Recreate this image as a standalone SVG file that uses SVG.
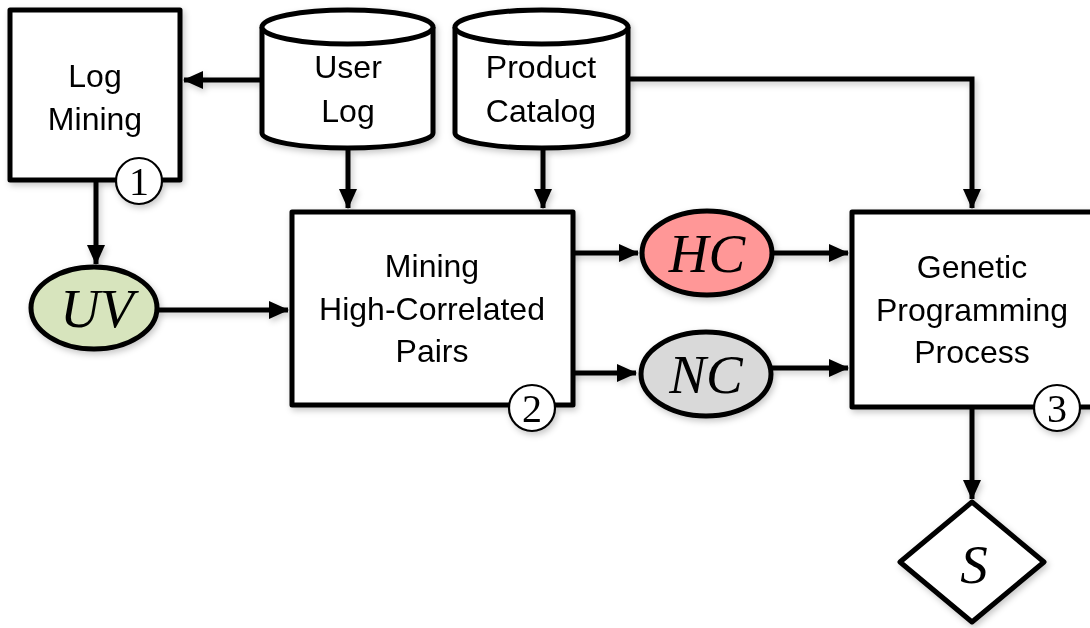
<svg xmlns="http://www.w3.org/2000/svg" width="1090" height="628" viewBox="0 0 1090 628">
<defs>
<marker id="ah" markerWidth="20" markerHeight="18" refX="19" refY="9" orient="auto" markerUnits="userSpaceOnUse">
<path d="M0,0 L20,9 L0,18 Z" fill="#000"/>
</marker>
<filter id="sh" x="-20%" y="-20%" width="140%" height="140%">
<feDropShadow dx="2" dy="3" stdDeviation="3" flood-color="#000" flood-opacity="0.22"/>
</filter>
</defs>
<style>
.box{fill:#fff;stroke:#000;stroke-width:5;stroke-linejoin:round}
.cyl{fill:#fff;stroke:#000;stroke-width:5;stroke-linejoin:round}
.ell{stroke:#000;stroke-width:5}
.num{fill:#fff;stroke:#000;stroke-width:2.2}
.lbl{font-family:"Liberation Sans",Arial,sans-serif;font-size:32px;text-anchor:middle;fill:#000}
.it{font-family:"Liberation Serif","Times New Roman",serif;font-style:italic;font-size:55px;text-anchor:middle;fill:#000}
.nt{font-family:"Liberation Serif","Times New Roman",serif;font-size:40px;text-anchor:middle;fill:#000}
.con{fill:none;stroke:#000;stroke-width:5;marker-end:url(#ah)}
</style>
<rect width="1090" height="628" fill="#fff"/>

<g id="connectors" filter="url(#sh)">
<path class="con" d="M262,80 H184"/>
<path class="con" d="M96,180 V264"/>
<path class="con" d="M157,310 H288"/>
<path class="con" d="M348,150 V208"/>
<path class="con" d="M543,150 V208"/>
<path class="con" d="M628,79 H972 V208"/>
<path class="con" d="M567,253 H638"/>
<path class="con" d="M567,373 H636"/>
<path class="con" d="M773,253 H848"/>
<path class="con" d="M772,368 H848"/>
<path class="con" d="M972,407 V499"/>
</g>

<g id="log-mining" filter="url(#sh)">
<rect class="box" x="10" y="10" width="170" height="170"/>
<text class="lbl" x="95" y="87">Log</text>
<text class="lbl" x="95" y="130">Mining</text>
<circle class="num" cx="139" cy="181" r="23"/>
<text class="nt" x="139" y="195">1</text>
</g>

<g id="user-log" filter="url(#sh)">
<path class="cyl" d="M262,27 V133 A85.5,15 0 0 0 433,133 V27"/>
<ellipse class="cyl" cx="347.5" cy="27" rx="85.5" ry="17"/>
<text class="lbl" x="348" y="78">User</text>
<text class="lbl" x="348" y="122">Log</text>
</g>

<g id="product-catalog" filter="url(#sh)">
<path class="cyl" d="M455,27 V133 A86.5,15 0 0 0 628,133 V27"/>
<ellipse class="cyl" cx="541.5" cy="27" rx="86.5" ry="17"/>
<text class="lbl" x="541" y="78">Product</text>
<text class="lbl" x="541" y="122">Catalog</text>
</g>

<g id="uv" filter="url(#sh)">
<ellipse class="ell" cx="94" cy="308" rx="63" ry="41" fill="#d7e4bd"/>
<text class="it" x="97" y="327">UV</text>
</g>

<g id="mining-pairs" filter="url(#sh)">
<rect class="box" x="292" y="212" width="281" height="193"/>
<text class="lbl" x="432" y="277">Mining</text>
<text class="lbl" x="432" y="320">High-Correlated</text>
<text class="lbl" x="432" y="362">Pairs</text>
<circle class="num" cx="532" cy="408" r="23"/>
<text class="nt" x="532" y="422">2</text>
</g>

<g id="hc" filter="url(#sh)">
<ellipse class="ell" cx="707" cy="253" rx="65" ry="42" fill="#ff9797"/>
<text class="it" x="707" y="272">HC</text>
</g>

<g id="nc" filter="url(#sh)">
<ellipse class="ell" cx="706" cy="374" rx="65" ry="42" fill="#d9d9d9"/>
<text class="it" x="706" y="393">NC</text>
</g>

<g id="genetic" filter="url(#sh)">
<rect class="box" x="852" y="212" width="260" height="195"/>
<text class="lbl" x="972" y="278">Genetic</text>
<text class="lbl" x="972" y="321">Programming</text>
<text class="lbl" x="972" y="363">Process</text>
<circle class="num" cx="1057" cy="408" r="23"/>
<text class="nt" x="1057" y="422">3</text>
</g>

<g id="s" filter="url(#sh)">
<path class="box" d="M972,502 L1044,562 L972,622 L900,562 Z"/>
<text class="it" x="974" y="583" font-size="62">S</text>
</g>
</svg>
